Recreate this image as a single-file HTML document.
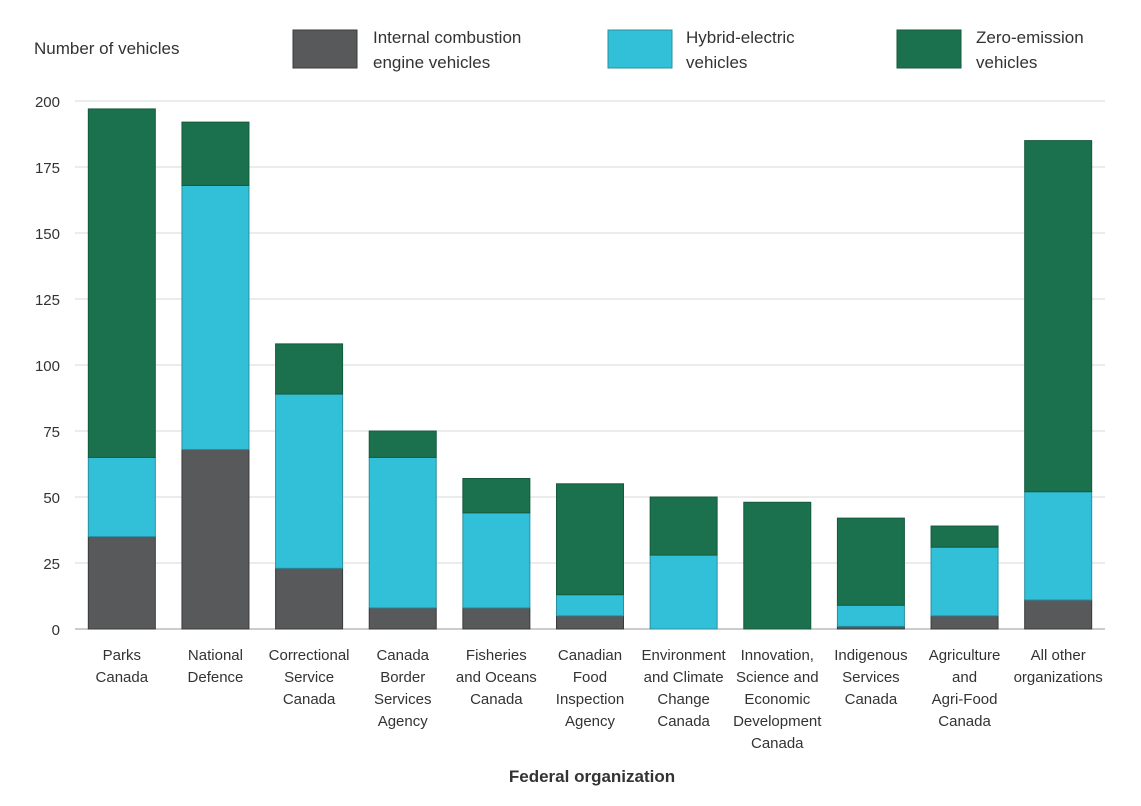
<!DOCTYPE html>
<html><head><meta charset="utf-8"><style>
body{margin:0;background:#fff;font-family:"Liberation Sans",sans-serif;}
svg text{font-family:"Liberation Sans",sans-serif;fill:#333;}
</style></head><body>
<svg id="chart" width="1141" height="801">
<text x="34" y="54" font-size="17">Number of vehicles</text>
<g>
<rect x="293" y="30" width="64" height="38" fill="#58595b" stroke="#3a3a3a"/>
<text x="373" y="43" font-size="17"><tspan x="373">Internal combustion</tspan><tspan x="373" dy="25">engine vehicles</tspan></text>
<rect x="608" y="30" width="64" height="38" fill="#31c0d8" stroke="#2a8fa0"/>
<text x="686" y="43" font-size="17"><tspan x="686">Hybrid-electric</tspan><tspan x="686" dy="25">vehicles</tspan></text>
<rect x="897" y="30" width="64" height="38" fill="#1b714e" stroke="#145a3d"/>
<text x="976" y="43" font-size="17"><tspan x="976">Zero-emission</tspan><tspan x="976" dy="25">vehicles</tspan></text>
</g>
<g id="grid"></g><g id="bars"></g><g id="xl"></g>
<text x="592" y="782" font-size="17" font-weight="bold" text-anchor="middle">Federal organization</text>
</svg>
<script>
const categories=[["Parks","Canada"],["National","Defence"],["Correctional","Service","Canada"],["Canada","Border","Services","Agency"],["Fisheries","and Oceans","Canada"],["Canadian","Food","Inspection","Agency"],["Environment","and Climate","Change","Canada"],["Innovation,","Science and","Economic","Development","Canada"],["Indigenous","Services","Canada"],["Agriculture","and","Agri-Food","Canada"],["All other","organizations"]];
const iceValues=[35,68,23,8,8,5,0,0,1,5,11];
const hybridValues=[30,100,66,57,36,8,28,0,8,26,41];
const zevValues=[132,24,19,10,13,42,22,48,33,8,133];
const yTicks=[0,25,50,75,100,125,150,175,200];
const NS="http://www.w3.org/2000/svg";
const x0=75,x1=1105,yBase=629,yTop=101,yMax=200;
const band=(x1-x0)/categories.length,bw=67;
function y(v){return yBase-(v/yMax)*(yBase-yTop);}
function xc(i){return x0+band*(i+0.5);}
function mk(t,a,p){const e=document.createElementNS(NS,t);for(const k in a)e.setAttribute(k,a[k]);p.appendChild(e);return e;}
const g=document.getElementById('grid');
yTicks.forEach(t=>{
 const l=mk('line',{x1:x0,x2:x1,y1:y(t),y2:y(t),stroke:t===0?'#999':'#d9d9d9','stroke-width':1},g);
 
 
 const tx=mk('text',{x:60,y:y(t)+6,'font-size':15,'text-anchor':'end'},g);tx.textContent=t;
 
 
});
const b=document.getElementById('bars');
const series=[[iceValues,'#58595b','#3a3a3a','ice'],[hybridValues,'#31c0d8','#2a8fa0','hybrid'],[zevValues,'#1b714e','#145a3d','zev']];
categories.forEach((c,i)=>{
 let acc=0;
 series.forEach(s=>{
  const v=s[0][i];if(v<=0)return;
  const r=mk('rect',{x:xc(i)-bw/2,y:y(acc+v),width:bw,height:y(acc)-y(acc+v),fill:s[1],stroke:s[2],'stroke-width':1},b);
  
  
  acc+=v;
 });
 const t=mk('text',{'font-size':15,'text-anchor':'middle'},document.getElementById('xl'));
 
 
 c.forEach((ln,j)=>{const ts=mk('tspan',{x:xc(i),y:660+j*22},t);ts.textContent=ln;});
});
</script>
</body></html>
